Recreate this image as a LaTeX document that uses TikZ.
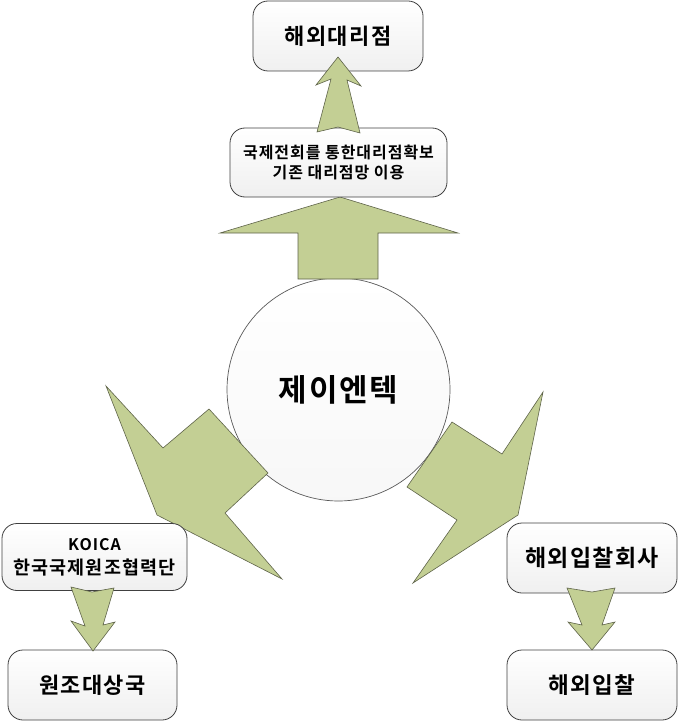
\documentclass[tikz,border=0pt]{standalone}
\usepackage{fontspec}
\setmainfont{Noto Sans CJK KR}[BoldFont={Noto Sans CJK KR Bold},BoldFeatures={LetterSpace=6}]
\definecolor{arrowgreen}{HTML}{C3CF94}
\definecolor{arrowedge}{HTML}{5E6349}
\definecolor{boxedge}{HTML}{404040}
\begin{document}
\begin{tikzpicture}[x=1pt,y=-1pt,
  blockarrow/.style={fill=arrowgreen,draw=arrowedge,line width=0.6pt,line join=miter},
  roundbox/.style={draw=boxedge,line width=0.8pt,rounded corners=15pt,top color=white,bottom color=black!6,
     inner sep=0pt,align=center,font=\bfseries},
  hub/.style={circle,draw=black!65,line width=0.7pt,top color=white,bottom color=black!3,inner sep=0pt,
     minimum size=223pt,font=\bfseries\fontsize{31}{36}\selectfont}]
\useasboundingbox (0,0) rectangle (678,722);

% centre circle
\node[hub] (hub) at (338.5,389.5) {제이엔텍};

% big up arrow
\draw[blockarrow] (340,197) -- (458,233) -- (378,233) -- (378,279) -- (298,279) -- (298,233) -- (220,233) -- cycle;

% left lightning arrow
\draw[blockarrow] (106,386) -- (163,448) -- (209,409) -- (268,473) -- (225,513) -- (282,579) -- (157,515) -- cycle;

% right lightning arrow
\draw[blockarrow] (543,392) -- (502,454) -- (452,422) -- (407,487) -- (457,520) -- (413,583) -- (518,515) -- cycle;

% boxes
\node[roundbox,minimum width=170pt,minimum height=70pt,font=\bfseries\fontsize{22}{26}\selectfont] (agent) at (338,36) {해외대리점};
\node[roundbox,minimum width=217pt,minimum height=69pt,font=\bfseries\fontsize{16}{20}\selectfont] (expo) at (338.5,162.5) {국제전회를 통한대리점확보\\기존 대리점망 이용};
\node[roundbox,minimum width=185pt,minimum height=67pt,font=\bfseries\fontsize{18.5}{24}\selectfont] (koica) at (94.5,557) {{\fontsize{16}{24}\selectfont KOICA}\\한국국제원조협력단};
\node[roundbox,minimum width=169pt,minimum height=70pt,font=\bfseries\fontsize{22}{27}\selectfont] (aid) at (92.5,685) {원조대상국};
\node[roundbox,minimum width=170pt,minimum height=70pt,font=\bfseries\fontsize{23}{28}\selectfont] (bidco) at (592,558) {해외입찰회사};
\node[roundbox,minimum width=170pt,minimum height=70pt,font=\bfseries\fontsize{22.5}{28}\selectfont] (bid) at (592,685) {해외입찰};

% small up arrow (expo -> agent)
\draw[blockarrow] (338,57) -- (361,86) -- (347,80) -- (360,133) -- (338,127) -- (317,132) -- (331,79) -- (316,85) -- cycle;

% small down arrow (koica -> aid)
\draw[blockarrow] (71,587) -- (92,592) -- (114,588) -- (103,625) -- (115,622) -- (93,651) -- (71,621) -- (85,626) -- cycle;

% small down arrow (bidco -> bid)
\draw[blockarrow] (567,588) -- (592,592) -- (615,588) -- (602,625) -- (615,622) -- (592,650) -- (568,622) -- (582,625) -- cycle;
\end{tikzpicture}
\end{document}
